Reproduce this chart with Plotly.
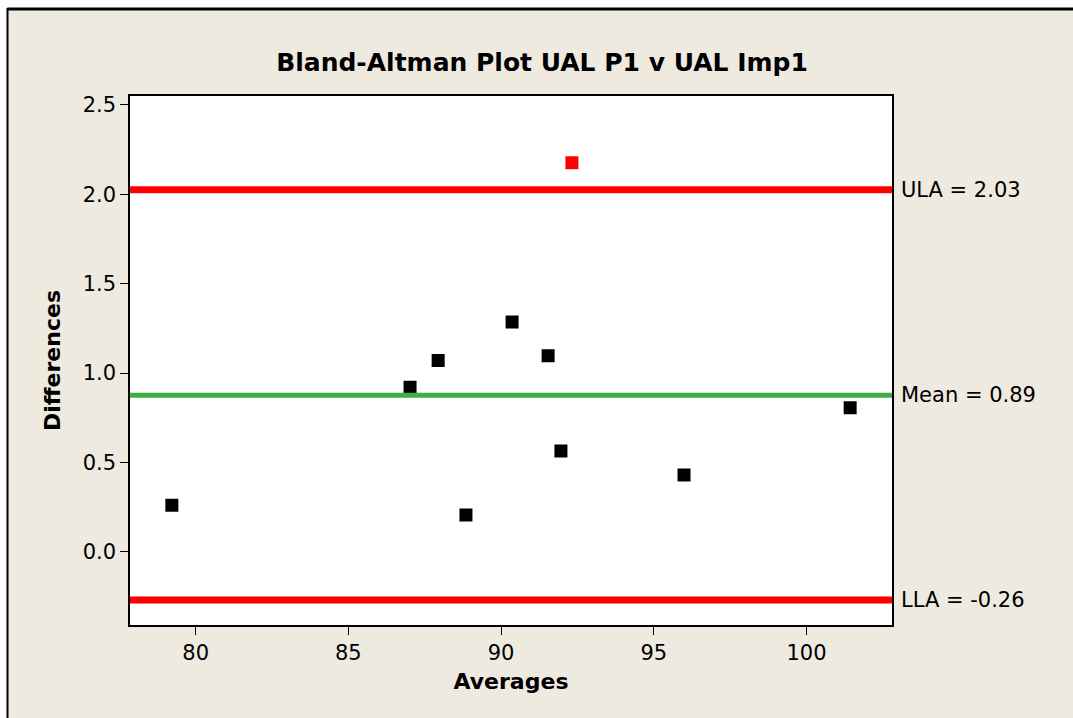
import plotly.graph_objects as go

# Data
averages = [79.22, 87.02, 87.94, 88.85, 90.36, 91.54, 91.96, 92.32, 95.99, 101.43]
differences = [0.26, 0.92, 1.07, 0.205, 1.286, 1.096, 0.564, 2.176, 0.43, 0.805]
point_colors = ["black", "black", "black", "black", "black", "black", "black", "red", "black", "black"]

limit_names = ["ULA", "Mean", "LLA"]
limit_values = [2.025, 0.875, -0.27]
limit_labels = ["ULA = 2.03", "Mean = 0.89", "LLA = -0.26"]
limit_colors = ["#FF0000", "#3DB043", "#FF0000"]
limit_widths = [7, 5, 7]

x_ticks = [80, 85, 90, 95, 100]
y_ticks = [0.0, 0.5, 1.0, 1.5, 2.0, 2.5]

W, H = 1073, 718
L, R, T, B = 130, 181, 96, 93
pw, ph = W - L - R, H - T - B

BG = "#EEEAE0"
FONT = "DejaVu Sans"

fig = go.Figure()

fig.add_trace(go.Scatter(
    x=averages, y=differences, mode="markers",
    marker=dict(symbol="square", size=11, color=point_colors,
                line=dict(color=point_colors, width=2)),
    showlegend=False, hoverinfo="x+y",
))

for v, lab, c, w in zip(limit_values, limit_labels, limit_colors, limit_widths):
    fig.add_shape(type="line", xref="paper", x0=0, x1=1, yref="y", y0=v, y1=v,
                  line=dict(color=c, width=w), layer="above")
    fig.add_annotation(xref="paper", x=1, yref="y", y=v, text=lab, showarrow=False,
                       xanchor="left", yanchor="middle", xshift=7,
                       font=dict(family=FONT, size=21, color="black"))

# outer frame: white strip top/left with black border like the source image
def fx(px):
    return (px - L) / pw

def fy(py):
    return (H - B - py) / ph

fig.add_shape(type="rect", xref="paper", yref="paper", x0=fx(-5), x1=fx(W + 5), y0=fy(-5), y1=fy(8.5),
              fillcolor="white", line=dict(width=0), layer="above")
fig.add_shape(type="rect", xref="paper", yref="paper", x0=fx(-5), x1=fx(7.3), y0=fy(-5), y1=fy(H + 5),
              fillcolor="white", line=dict(width=0), layer="above")
fig.add_shape(type="line", xref="paper", yref="paper", x0=fx(7.3), x1=fx(W + 5), y0=fy(9), y1=fy(9),
              line=dict(color="black", width=3), layer="above")
fig.add_shape(type="line", xref="paper", yref="paper", x0=fx(7.5), x1=fx(7.5), y0=fy(8), y1=fy(H + 5),
              line=dict(color="black", width=2), layer="above")

fig.update_layout(
    width=W, height=H,
    margin=dict(l=L, r=R, t=T, b=B),
    paper_bgcolor=BG, plot_bgcolor="white",
    title=dict(text="<b>Bland-Altman Plot UAL P1 v UAL Imp1</b>", xref="container", x=542 / W,
               xanchor="center", yref="container", y=1 - 62 / H, yanchor="middle",
               font=dict(family=FONT, size=25, color="black")),
    font=dict(family=FONT, color="black"),
)

fig.update_xaxes(range=[77.85, 102.8], tickvals=x_ticks, ticktext=[str(t) for t in x_ticks],
                 ticks="outside", ticklen=8, tickcolor="black", tickwidth=1,
                 showline=True, linecolor="black", linewidth=1.5, mirror=True,
                 showgrid=False, zeroline=False,
                 tickfont=dict(family=FONT, size=21),
                 title=dict(text="<b>Averages</b>", font=dict(family=FONT, size=22), standoff=10))
fig.update_yaxes(range=[-0.41, 2.55], tickvals=y_ticks, ticktext=[f"{t:.1f}" for t in y_ticks],
                 ticks="outside", ticklen=8, tickcolor="black", tickwidth=1,
                 showline=True, linecolor="black", linewidth=1.5, mirror=True,
                 showgrid=False, zeroline=False,
                 tickfont=dict(family=FONT, size=21),
                 title=dict(text="<b>Differences</b>", font=dict(family=FONT, size=22), standoff=16))

fig.write_html("out.html")
